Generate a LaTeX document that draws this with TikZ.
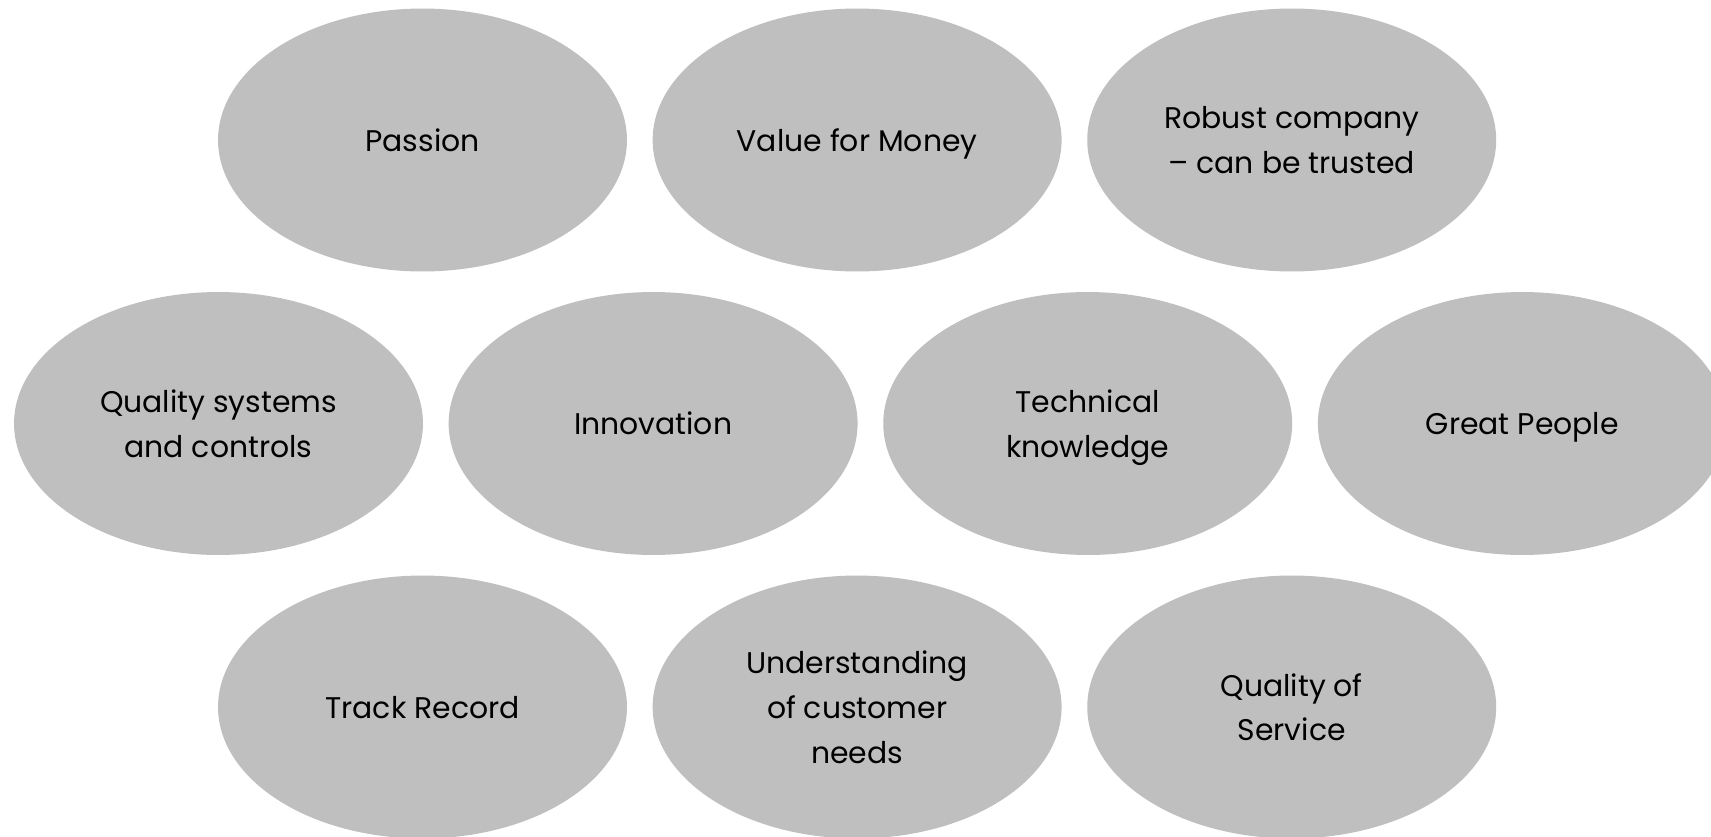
\documentclass[tikz,border=0pt]{standalone}
\usepackage{fontspec}
\setmainfont{Poppins}
\usetikzlibrary{shapes.geometric,positioning}
\definecolor{ovalgrau}{HTML}{BFBFBF}
\tikzset{
  % descenders of the last line are left out, so every text block is centred alike
  oval/.style={ellipse,fill=ovalgrau,draw=none,minimum width=8.18cm,minimum height=5.26cm,
    inner sep=0pt,align=center,text=black,font=\fontsize{17}{25.5}\selectfont,
    text depth=0pt},
}

\begin{document}
\begin{tikzpicture}[x=0.02cm,y=-0.02cm]
  \useasboundingbox (0,0) rectangle (1711,836);
  \clip (0,0) rectangle (1711,836);
  % first row
  \node[oval] (passion) at (422.5,140) {Passion};
  \node[oval,right=0.5cm of passion] (value) {Value for Money};
  \node[oval,right=0.5cm of value] (robust) {Robust company\\-- can be trusted};
  % second row
  \node[oval] (quality) at (218.5,423.5) {Quality systems\\and controls};
  \node[oval,right=0.5cm of quality] (innov) {Innovation};
  \node[oval,right=0.5cm of innov] (tech) {Technical\\knowledge};
  \node[oval,right=0.5cm of tech] (people) {Great People};
  % third row
  \node[oval] (track) at (422.5,707) {Track Record};
  \node[oval,right=0.5cm of track] (custneeds) {Understanding\\of customer\\needs};
  \node[oval,right=0.5cm of custneeds] (service) {Quality of\\Service};
\end{tikzpicture}
\end{document}
